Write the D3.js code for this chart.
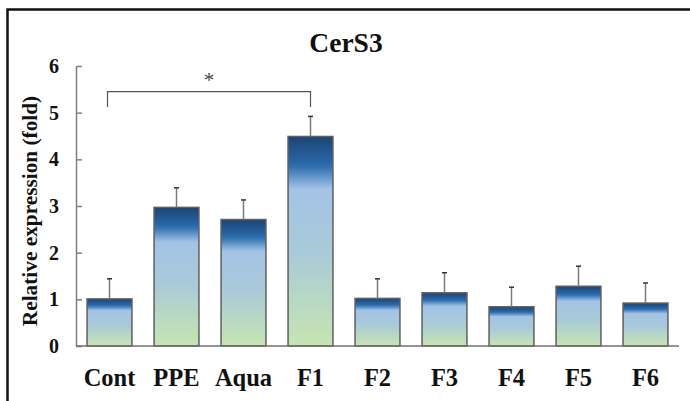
<!DOCTYPE html>
<html>
<head>
<meta charset="utf-8">
<script src="https://cdn.jsdelivr.net/npm/d3@7"></script>
<style>
  body { margin: 0; background: #fff; }
  text { font-family: "Liberation Serif", "Times New Roman", serif; font-weight: bold; fill: #111; }
</style>
</head>
<body>
<div id="GraphHolder"></div>
<script>
// chart data
var categories = ["Cont", "PPE", "Aqua", "F1", "F2", "F3", "F4", "F5", "F6"];
var values = [1.01, 2.97, 2.71, 4.49, 1.02, 1.14, 0.84, 1.28, 0.92];
var errors = [0.43, 0.42, 0.42, 0.43, 0.42, 0.43, 0.42, 0.43, 0.43];
var yTicks = [0, 1, 2, 3, 4, 5, 6];

var W = 690, H = 401;
var svg = d3.select("#GraphHolder").append("svg")
    .attr("width", W)
    .attr("height", H);

// gradient used by every bar
var grad = svg.append("defs").append("linearGradient")
    .attr("id", "barGrad")
    .attr("x1", 0).attr("y1", 0).attr("x2", 0).attr("y2", 1);
[["0%", "#1c4473"], ["12%", "#2766a5"], ["15%", "#3574b3"], ["25%", "#a3c3e5"],
 ["55%", "#a9cad9"], ["100%", "#c7e5b1"]].forEach(function(s) {
    grad.append("stop").attr("offset", s[0]).attr("stop-color", s[1]);
});

// outer frame (right and bottom run off the picture)
svg.append("rect")
    .attr("x", 7.5).attr("y", 9.5)
    .attr("width", 720).attr("height", 420)
    .attr("fill", "none")
    .attr("stroke", "#111")
    .attr("stroke-width", 2.5);

// scales
var x = d3.scaleBand()
    .domain(categories)
    .range([76, 679])
    .paddingInner(0.33)
    .paddingOuter(0.165);
var y = d3.scaleLinear()
    .domain([0, 6])
    .range([346, 66]);

// y axis (ticks point inward)
var yAxis = svg.append("g")
    .attr("transform", "translate(76,0)")
    .call(d3.axisRight(y).tickValues(yTicks).tickSize(6).tickSizeOuter(0).tickFormat(""));
yAxis.selectAll("path, line").attr("stroke", "#808080").attr("stroke-width", 1.5);

svg.selectAll(".ylab")
    .data(yTicks)
    .enter().append("text")
    .attr("class", "ylab")
    .attr("x", 59)
    .attr("y", function(d) { return y(d); })
    .attr("dy", "0.35em")
    .style("text-anchor", "end")
    .style("font-size", "20px")
    .text(function(d) { return d; });

// bars
svg.selectAll(".bar")
    .data(categories)
    .enter().append("rect")
    .attr("class", "bar")
    .attr("x", function(d) { return x(d); })
    .attr("y", function(d, i) { return y(values[i]); })
    .attr("width", x.bandwidth())
    .attr("height", function(d, i) { return y(0) - y(values[i]); })
    .attr("fill", "url(#barGrad)")
    .attr("stroke", "#5f5f5f")
    .attr("stroke-width", 1.5);

// error bars
svg.selectAll(".err")
    .data(categories)
    .enter().append("line")
    .attr("class", "err")
    .attr("x1", function(d) { return x(d) + x.bandwidth() / 2; })
    .attr("x2", function(d) { return x(d) + x.bandwidth() / 2; })
    .attr("y1", function(d, i) { return y(values[i]); })
    .attr("y2", function(d, i) { return y(values[i] + errors[i]); })
    .attr("stroke", "#7a7a7a")
    .attr("stroke-width", 1.5);
svg.selectAll(".cap")
    .data(categories)
    .enter().append("line")
    .attr("class", "cap")
    .attr("x1", function(d) { return x(d) + x.bandwidth() / 2 - 2.5; })
    .attr("x2", function(d) { return x(d) + x.bandwidth() / 2 + 2.5; })
    .attr("y1", function(d, i) { return y(values[i] + errors[i]); })
    .attr("y2", function(d, i) { return y(values[i] + errors[i]); })
    .attr("stroke", "#333")
    .attr("stroke-width", 1.5);

// x axis line
svg.append("line")
    .attr("x1", 76).attr("x2", 679)
    .attr("y1", y(0)).attr("y2", y(0))
    .attr("stroke", "#707070")
    .attr("stroke-width", 1.5);

svg.selectAll(".xlab")
    .data(categories)
    .enter().append("text")
    .attr("class", "xlab")
    .attr("x", function(d) { return x(d) + x.bandwidth() / 2; })
    .attr("y", 386)
    .style("text-anchor", "middle")
    .style("font-size", "24.5px")
    .text(function(d) { return d; });

// significance bracket Cont vs F1
var bx1 = x("Cont") + x.bandwidth() / 2 - 2,
    bx2 = x("F1") + x.bandwidth() / 2;
svg.append("path")
    .attr("d", "M" + bx1 + "," + y(5.12) + "V" + y(5.45) + "H" + bx2 + "V" + y(5.12))
    .attr("fill", "none")
    .attr("stroke", "#555")
    .attr("stroke-width", 1.2);
svg.append("text")
    .attr("x", (bx1 + bx2) / 2)
    .attr("y", 87)
    .style("text-anchor", "middle")
    .style("font-size", "21px")
    .style("font-weight", "normal")
    .style("fill", "#444")
    .text("*");

// title
svg.append("text")
    .attr("x", 346)
    .attr("y", 52)
    .style("text-anchor", "middle")
    .style("font-size", "27.5px")
    .text("CerS3");

// y label
svg.append("text")
    .attr("transform", "translate(37,211) rotate(-90)")
    .style("text-anchor", "middle")
    .style("font-size", "21.3px")
    .text("Relative expression (fold)");
</script>
</body>
</html>
